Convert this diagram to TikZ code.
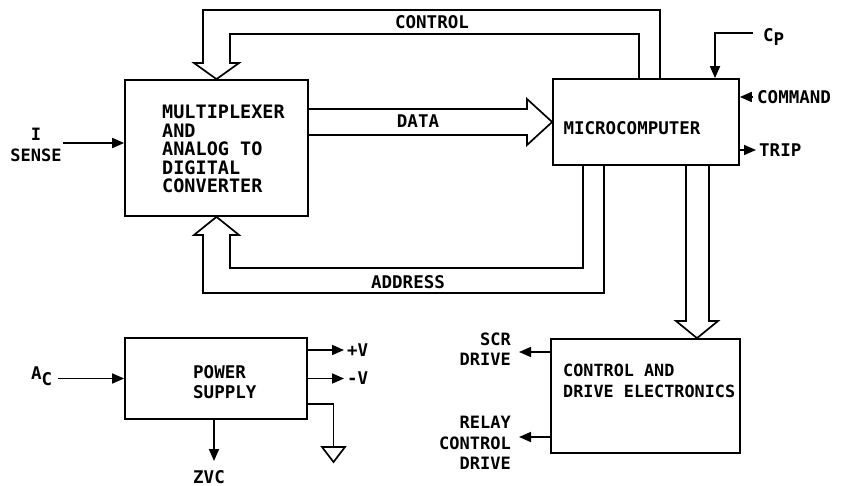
\documentclass[tikz,border=0pt]{standalone}
\usepackage{fontspec}
\setmonofont{DejaVu Sans Mono}
\usetikzlibrary{arrows.meta,calc}
\tikzset{
  box/.style={draw, line width=1.7pt, inner sep=0pt},
  ln/.style={line width=1.7pt, line join=miter},
  arr/.style={line width=1.7pt, -{Triangle[length=12pt,width=10pt]}},
  txt/.style={font=\ttfamily\bfseries\fontsize{17.5}{20}\selectfont, inner sep=0pt},
  txtm/.style={font=\ttfamily\bfseries\fontsize{18.5}{18.5}\selectfont, inner sep=0pt},
  txtc/.style={font=\ttfamily\bfseries\fontsize{16.8}{21}\selectfont, inner sep=0pt},
  txtb/.style={font=\ttfamily\bfseries\fontsize{17}{20.5}\selectfont, inner sep=0pt}
}
\begin{document}
\begin{tikzpicture}[x=1pt,y=-1pt]
\useasboundingbox (0,0) rectangle (843,486);
% boxes
\node[box, minimum width=183pt, minimum height=136pt] (mux) at (216.5,148) {};
\node[box, minimum width=186pt, minimum height=86pt] (mc) at (646,122) {};
\node[box, minimum width=189pt, minimum height=114pt] (cde) at (645.5,396) {};
\node[box, minimum width=182pt, minimum height=81pt] (ps) at (216,378.5) {};
% box texts
\node[txtm, anchor=north west, align=left] (muxt) at (162,105) {MULTIPLEXER\\AND\\ANALOG TO\\DIGITAL\\CONVERTER};
\node[txt] (mct) at (632,128) {MICROCOMPUTER};
\node[txtc, anchor=west, align=left] (cdet) at (563,381) {CONTROL AND\\DRIVE ELECTRONICS};
\node[txt, anchor=west, align=left] (pst) at (193,382) {POWER\\SUPPLY};
% control bus
\draw[ln] ($(mc.north)+(14,0)$) -- (660,10) -- (203,10) -- (203,63) -- (194,63)
  -- (mux.north) -- (239,63) -- (230,63) -- (230,34) -- (639,34) -- ($(mc.north)+(-7,0)$);
\node[txt] (ctl) at (432,22) {CONTROL};
% data bus
\draw[ln] ($(mux.east)+(0,-39)$) -- (527,109) -- (527,99) -- (mc.west) -- (527,145) -- (527,135) -- ($(mux.east)+(0,-13)$);
\node[txt] (dat) at (418,121) {DATA};
% address bus
\draw[ln] ($(mc.south)+(-63,0)$) -- (583,268) -- (230,268) -- (230,235) -- (239,235)
  -- (mux.south) -- (194,235) -- (203,235) -- (203,293) -- (604,293) -- ($(mc.south)+(-42,0)$);
\node[txt] (adr) at (408,282) {ADDRESS};
% bus to control and drive
\draw[ln] ($(mc.south)+(40,0)$) -- (686,321) -- (676,321) -- ($(cde.north)+(51.5,0)$)
  -- (718,321) -- (709,321) -- ($(mc.south)+(63,0)$);
% microcomputer signals
\coordinate (cpin) at (753,33);
\draw[arr] (cpin) -- (715,33) -- ($(mc.north)+(69,0)$);
\node[txt, anchor=west] (cp) at (763,37) {C\raisebox{-0.5ex}{P}};
\coordinate (cmdin) at (753,97);
\draw[arr] (cmdin) -- ($(mc.east)+(0,-25)$);
\node[txt, anchor=west] (cmd) at (757,97) {COMMAND};
\coordinate (tripout) at (756,150);
\draw[arr] ($(mc.east)+(0,28)$) -- (tripout);
\node[txt, anchor=west] (trip) at (759,150) {TRIP};
% I sense
\coordinate (isin) at (63,143);
\draw[arr] (isin) -- ($(mux.west)+(0,-5)$);
\node[txtb, align=center] (isense) at (36,145) {I\\SENSE};
% control and drive outputs
\coordinate (scrout) at (519,352);
\draw[arr] ($(cde.west)+(0,-44)$) -- (scrout);
\node[txtb, anchor=east, align=right] (scr) at (511,349) {SCR\\DRIVE};
\coordinate (relout) at (519,437);
\draw[arr] ($(cde.west)+(0,41)$) -- (relout);
\node[txtb, anchor=east, align=right] (rel) at (511,443) {RELAY\\CONTROL\\DRIVE};
% power supply
\coordinate (acin) at (58,378.5);
\draw[arr] (acin) -- (ps.west);
\node[txt, anchor=west] (ac) at (31,376) {A\raisebox{-0.6ex}{C}};
\coordinate (pv) at (344,350);
\draw[arr] ($(ps.east)+(0,-28.5)$) -- (pv);
\node[txt, anchor=west] (pvl) at (347,350) {+V};
\coordinate (mv) at (344,378.5);
\draw[arr] (ps.east) -- (mv);
\node[txt, anchor=west] (mvl) at (347,378.5) {-V};
\draw[ln] ($(ps.east)+(0,25.5)$) -- (333.5,404) -- (333.5,447);
\draw[ln] (322,447) -- (345,447) -- (333.5,462) -- cycle;
\coordinate (zvcout) at (214,461);
\draw[arr] ($(ps.south)+(-2,0)$) -- (zvcout);
\node[txt] (zvc) at (209,477) {ZVC};
\end{tikzpicture}
\end{document}
